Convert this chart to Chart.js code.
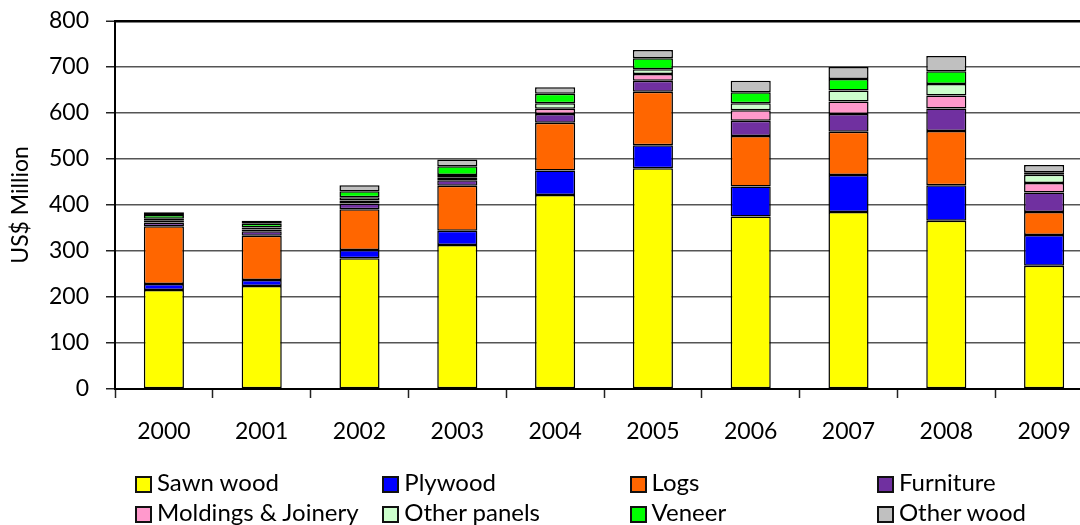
<!DOCTYPE html>
<html>
<head>
<meta charset="utf-8">
<script src="https://cdn.jsdelivr.net/npm/chart.js@4.4.1/dist/chart.umd.min.js"></script>
<style>
  html, body { margin: 0; padding: 0; background: #fff; overflow: hidden; width: 1080px; height: 525px; }
  #wrap { position: absolute; left: 0; top: 0; width: 1093px; height: 525px; }
  #legend { position: absolute; left: 0; top: 0; width: 1080px; height: 525px; pointer-events: none;
            font-family: Lato, "Open Sans", sans-serif; font-size: 24px; color: #000; }
  .li { position: absolute; height: 24px; line-height: 24px; white-space: nowrap; }
  .li .bx { position: absolute; left: 0; top: 3px; width: 13px; height: 13px; border: 2px solid #111; }
  .li .tx { position: absolute; left: 22px; top: -3px; }
</style>
</head>
<body>
<div id="wrap"><canvas id="c"></canvas></div>
<div id="legend"></div>
<script>
const years = ['2000','2001','2002','2003','2004','2005','2006','2007','2008','2009'];
const seriesNames = ['Sawn wood','Plywood','Logs','Furniture','Moldings & Joinery','Other panels','Veneer','Other wood'];
const seriesColors = ['#FFFF00','#0000FF','#FF6600','#7030A0','#FF99CC','#CCFFCC','#00FF00','#C0C0C0'];
const sawnWood  = [215, 224, 284, 313, 422, 480, 375, 385, 366, 268];
const plywood   = [13, 13, 18, 31, 53, 50, 65, 80, 77, 67];
const logs      = [126, 96, 89, 98, 104, 116, 110, 94, 118, 50];
const furniture = [8, 10, 12, 12, 19, 24, 33, 39, 49, 42];
const moldings  = [4, 4, 7, 5, 11, 15, 23, 27, 28, 21];
const otherPanels = [4, 4, 7, 6, 12, 10, 15, 24, 25, 18];
const veneer    = [8, 8, 13, 19, 21, 24, 24, 25, 28, 5];
const otherWood = [6, 7, 13, 15, 14, 18, 25, 26, 33, 16];
const yTicks = [0, 100, 200, 300, 400, 500, 600, 700, 800];

const seriesData = [sawnWood, plywood, logs, furniture, moldings, otherPanels, veneer, otherWood];

const FONT = 'Lato, "Open Sans", sans-serif';

const datasets = seriesNames.map((name, i) => ({
  label: name,
  data: seriesData[i],
  backgroundColor: seriesColors[i],
  borderColor: '#000',
  borderWidth: 1.5,
  borderSkipped: false,
  barPercentage: 0.41,
  categoryPercentage: 1.0
}));

const chart = new Chart(document.getElementById('c'), {
  type: 'bar',
  data: { labels: years, datasets: datasets },
  options: {
    responsive: true,
    maintainAspectRatio: false,
    animation: false,
    layout: { padding: { top: 21, left: 0, right: 0, bottom: 0 } },
    plugins: { legend: { display: false }, tooltip: { enabled: false } },
    scales: {
      x: {
        stacked: true,
        grid: { offset: true, drawOnChartArea: false, drawTicks: true, tickLength: 9, tickColor: '#222', tickWidth: 1.5 },
        border: { color: '#000', width: 2 },
        ticks: { color: '#000', font: { family: FONT, size: 23 }, padding: 20 },
        afterFit: (s) => { s.height = 525 - 389; }
      },
      y: {
        stacked: true,
        min: 0, max: 800,
        afterBuildTicks: (s) => { s.ticks = yTicks.map(v => ({ value: v })); },
        grid: {
          color: (ctx) => ctx.tick && ctx.tick.value === 800 ? '#000' : '#555',
          lineWidth: (ctx) => ctx.tick && ctx.tick.value === 800 ? 2.5 : 1.5,
          tickLength: 9, tickColor: '#222', tickWidth: 1.5
        },
        border: { color: '#000', width: 2 },
        ticks: { color: '#000', font: { family: FONT, size: 23 }, padding: 17 },
        title: { display: true, text: 'US$ Million', color: '#000', font: { family: FONT, size: 23 }, padding: { top: 7, bottom: 0 } },
        afterFit: (s) => { s.width = 115; s.paddingTop = 0; s.paddingBottom = 0; }
      }
    }
  }
});

// HTML legend in a 4-column grid, built from the datasets
const legendEl = document.getElementById('legend');
chart.data.datasets.forEach((ds, i) => {
  const col = i % 4, row = Math.floor(i / 4);
  const item = document.createElement('div');
  item.className = 'li';
  item.style.left = (135 + col * 247.3) + 'px';
  item.style.top = (473 + row * 30) + 'px';
  const bx = document.createElement('span');
  bx.className = 'bx';
  bx.style.background = ds.backgroundColor;
  const tx = document.createElement('span');
  tx.className = 'tx';
  tx.textContent = ds.label;
  item.appendChild(bx); item.appendChild(tx);
  legendEl.appendChild(item);
});
</script>
</body>
</html>
